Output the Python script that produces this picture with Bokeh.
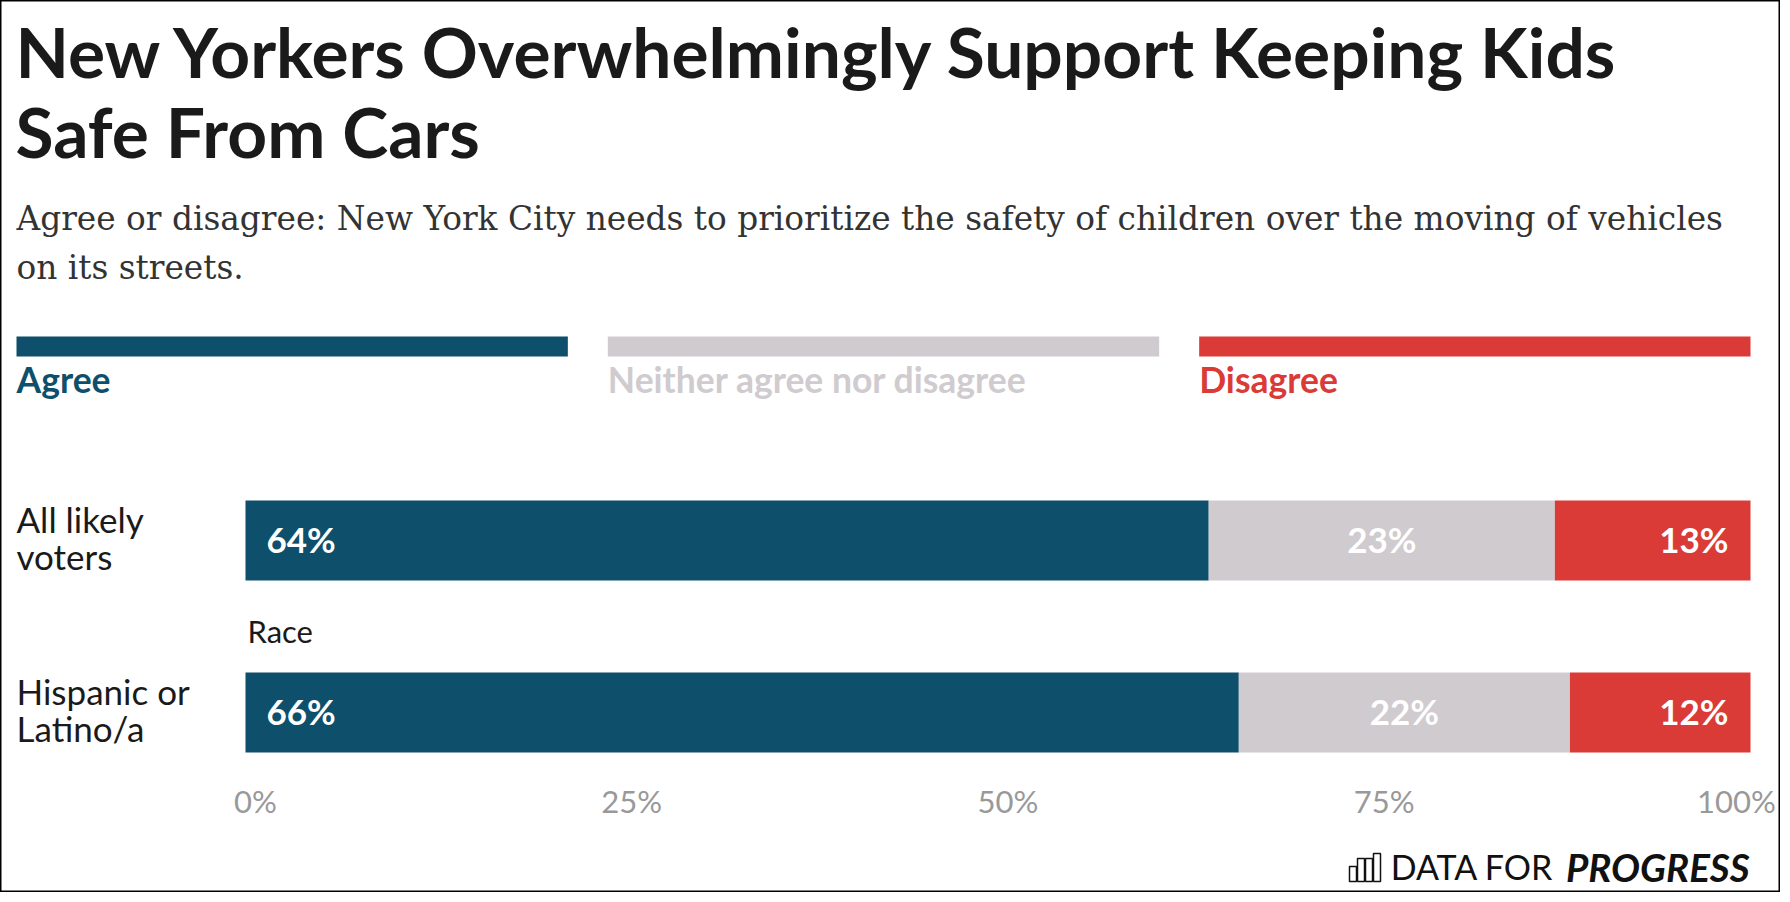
import numpy as np
from bokeh.plotting import figure
from bokeh.models import Range1d
from bokeh.core.properties import value
from bokeh.embed import file_html
from bokeh.resources import INLINE

# ---------------- data ----------------
title_lines = ["New Yorkers Overwhelmingly Support Keeping Kids", "Safe From Cars"]
subtitle_lines = [
    "Agree or disagree: New York City needs to prioritize the safety of children over the moving of vehicles",
    "on its streets.",
]
responses = ["Agree", "Neither agree nor disagree", "Disagree"]
colors = ["#0E4F6C", "#D0CBCF", "#DB3B36"]
groups = ["All likely\nvoters", "Hispanic or\nLatino/a"]
group_headers = ["", "Race"]
agree = [64, 66]
neither = [23, 22]
disagree = [13, 12]
tick_values = [0, 25, 50, 75, 100]
tick_labels = ["0%", "25%", "50%", "75%", "100%"]
brand_light = "DATA FOR"
brand_bold = "PROGRESS"

# ---------------- layout (picture pixels) ----------------
W, H = 1780, 892
X0, X1 = 245, 1750      # 0% and 100% positions
ROW0, STEP = 540, 172   # first row centre and row spacing
BAR_H = 80
FONT = value("Lato")


def dx(px):
    return (px - X0) * 100.0 / (X1 - X0)


def dy(py):
    return (py - ROW0) / STEP


p = figure(width=W, height=H, title=None,
           x_range=Range1d(dx(0), dx(W)),
           y_range=Range1d(dy(H), dy(0)),
           output_backend="svg", toolbar_location=None,
           x_axis_location=None, y_axis_location=None, min_border=0)
p.grid.visible = False
p.outline_line_color = "#000000"
p.outline_line_width = 2
p.background_fill_color = "white"
p.border_fill_color = "white"

# ---------------- title & subtitle ----------------
p.text(x=[dx(15)] * 2, y=[dy(50), dy(130)], text=title_lines,
       text_font=FONT, text_font_style="bold", text_font_size="69.5px",
       text_color="#1a1a1a", text_align="left", text_baseline="middle")
p.text(x=[dx(16)] * 2, y=[dy(218), dy(267)], text=subtitle_lines,
       text_font=value("DejaVu Serif"), text_font_size="32.8px",
       text_color="#333333", text_align="left", text_baseline="middle")

# ---------------- legend ----------------
n = len(responses)
gap = 40
L0, L1 = 16, 1750
sw = (L1 - L0 - gap * (n - 1)) / n
lx = [L0 + i * (sw + gap) for i in range(n)]
p.quad(left=[dx(a) for a in lx], right=[dx(a + sw) for a in lx],
       top=dy(336), bottom=dy(356), fill_color=colors, line_color=None)
p.text(x=[dx(a) for a in lx], y=[dy(379)] * n, text=responses,
       text_color=colors, text_font=FONT, text_font_style="bold",
       text_font_size="35.5px", text_align="left", text_baseline="middle")

# ---------------- bars ----------------
vals = np.array([agree, neither, disagree], dtype=float)
rights = np.cumsum(vals, axis=0)
lefts = rights - vals
ys = np.arange(len(groups))
for k in range(n):
    p.hbar(y=ys, left=lefts[k], right=rights[k], height=BAR_H / STEP,
           fill_color=colors[k], line_color=None)

lab = [[f"{int(v)}%" for v in row] for row in vals]
common = dict(text_color="white", text_font=FONT, text_font_style="bold",
              text_font_size="35px", text_baseline="middle", y_offset=-2)
p.text(x=lefts[0], y=ys, text=lab[0], x_offset=21, text_align="left", **common)
p.text(x=(lefts[1] + rights[1]) / 2, y=ys, text=lab[1], text_align="center", **common)
p.text(x=rights[2], y=ys, text=lab[2], x_offset=-22, text_align="right", **common)

# row labels
p.text(x=[dx(16)] * len(groups), y=ys, text=groups, y_offset=-3, text_font=FONT,
       text_font_size="35px", text_color="#1a1a1a", text_align="left",
       text_baseline="middle", text_line_height=0.9)

# group headers
hy = [i - 0.5 for i, g in enumerate(group_headers) if g]
ht = [g for g in group_headers if g]
p.text(x=[0] * len(ht), y=hy, text=ht, x_offset=2, y_offset=4, text_font=FONT,
       text_font_size="31px", text_color="#1a1a1a", text_align="left",
       text_baseline="middle")

# x tick labels (last one pulled in so it is not cut by the border)
offs = [10] * (len(tick_values) - 1) + [-14]
p.text(x=tick_values, y=[dy(800)] * len(tick_values), text=tick_labels,
       x_offset=offs, text_font=FONT, text_font_size="31px", text_color="#999999",
       text_align="center", text_baseline="middle")

# ---------------- brand ----------------
p.text(x=[dx(1749)], y=[dy(866)], text=[brand_bold], text_font=FONT,
       text_font_style="bold italic", text_font_size="38.5px", text_color="#111111",
       text_align="right", text_baseline="middle")
p.text(x=[dx(1553)], y=[dy(866)], text=[brand_light], text_font=FONT,
       text_font_size="34px", text_color="#111111",
       text_align="right", text_baseline="middle")
icon_left = [1349, 1357, 1365, 1373]
icon_top = [866, 858, 858, 853]
p.quad(left=[dx(a) for a in icon_left], right=[dx(a + 7) for a in icon_left],
       top=[dy(t) for t in icon_top], bottom=dy(881), fill_color=None,
       line_color="#111111", line_width=1.5)

open("out.html", "w").write(file_html(p, INLINE))
